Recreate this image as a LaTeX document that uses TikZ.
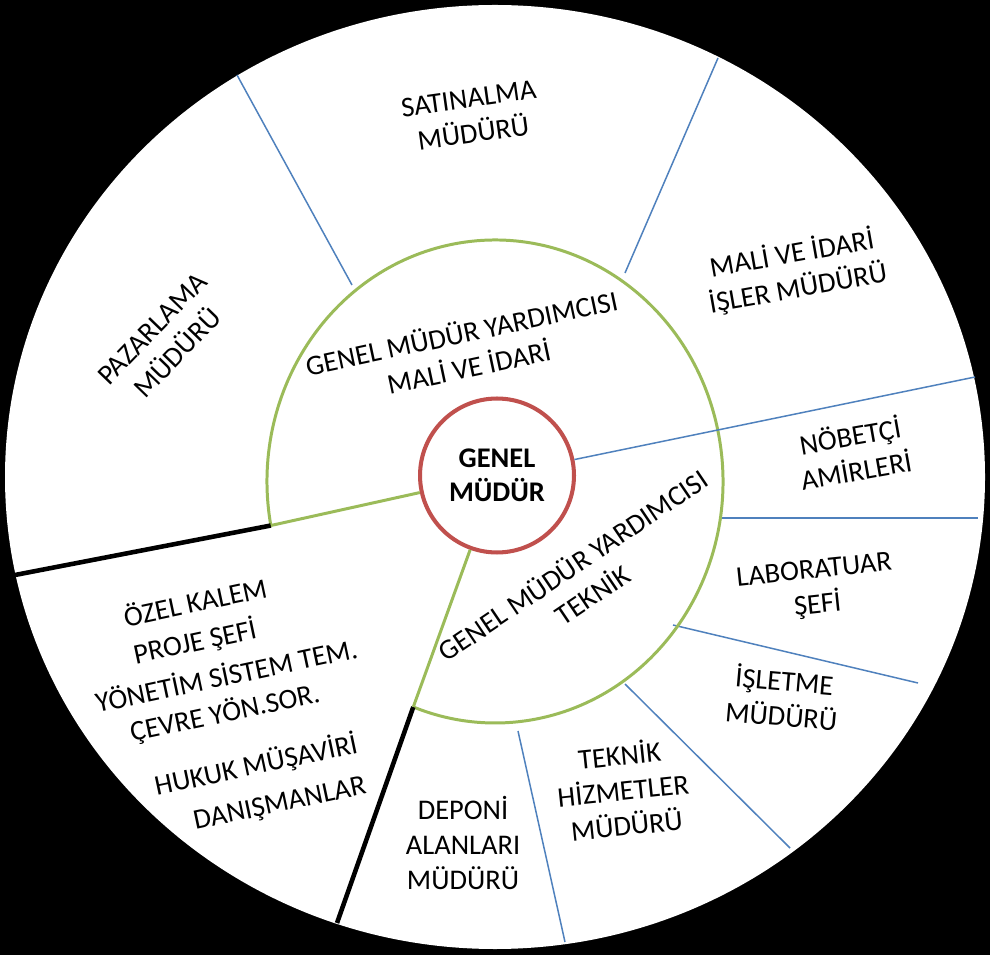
\documentclass[tikz,border=0pt]{standalone}
\usepackage{fontspec}
\setmainfont{Carlito}
\usepackage{tikz}
\usetikzlibrary{positioning,calc}
\definecolor{ringgreen}{HTML}{9BBB59}
\definecolor{ringred}{HTML}{C0504D}
\definecolor{divblue}{HTML}{4F81BD}

\begin{document}
\begin{tikzpicture}[x=0.02cm, y=-0.02cm,
      lbl/.style={align=center,inner sep=0pt,text=black,font=\fontsize{16.2}{20}\selectfont},
      boss/.style={circle,draw=ringred,line width=2.3pt,fill=white,minimum size=3.08cm,inner sep=0pt,
        align=center,font=\fontsize{16.2}{19.5}\selectfont\bfseries},
      ring/.style={draw=ringgreen,line width=1.7pt},
      divider/.style={draw=divblue,line width=0.85pt},
      heavy/.style={draw=black,line width=2.6pt}]
      \useasboundingbox (0,0) rectangle (990,955);
      \fill[black] (0,0) rectangle (990,955);
      \fill[white] (495,477) ellipse[x radius=490, y radius=472];
      \draw[divider] (352,285) -- (237,75);
      \draw[divider] (625,273) -- (718,58);
      \draw[divider] (722,518) -- (978,518);
      \draw[divider] (673,625) -- (918,683);
      \draw[divider] (625,684) -- (790,848);
      \draw[divider] (518,731) -- (565,942);
      \draw[ring] (495,481.5) ++(169.5:228 and 241.5) coordinate (gL)
        arc[start angle=169.5, end angle=471, x radius=228, y radius=241.5] coordinate (gB);
      \coordinate (oL) at (15,575);
      \coordinate (oB) at (337,923);
      \draw[heavy] (gL) -- (oL);
      \draw[heavy] (gB) -- (oB);
      \node[boss] (gm) at (497,475.5) {GENEL\\MÜDÜR};
      \draw[divider] (gm) -- (975,377);
      \draw[ring] (gm) -- (gL);
      \draw[ring] (gm) -- (gB);
      \node[lbl,rotate=8] (satin) at (471,116) {SATINALMA\\MÜDÜRÜ};
      \node[lbl,rotate=10] (mali) at (795,271) {MALİ VE İDARİ\\İŞLER MÜDÜRÜ};
      \node[lbl,rotate=46] (pazar) at (165,341) {PAZARLAMA\\MÜDÜRÜ};
      \node[lbl,rotate=12] (gmymali) at (465,349) {GENEL MÜDÜR YARDIMCISI\\MALİ VE İDARİ};
      \node[lbl,rotate=34] (gmytek) at (582,579) {GENEL MÜDÜR YARDIMCISI\\TEKNİK};
      \node[lbl,rotate=10] (nobet) at (853,452) {NÖBETÇİ\\AMİRLERİ};
      \node[lbl,rotate=6] (lab) at (816,589) {LABORATUAR\\ŞEFİ};
      \node[lbl,rotate=-5] (islet) at (783,697) {İŞLETME\\MÜDÜRÜ};
      \node[lbl,rotate=6] (teknik) at (623,789) {TEKNİK\\HİZMETLER\\MÜDÜRÜ};
      \node[lbl] (deponi) at (463,843) {DEPONİ\\ALANLARI\\MÜDÜRÜ};
      \node[lbl,rotate=12] (ozel) at (195,601) {ÖZEL KALEM};
      \node[lbl,rotate=12] (proje) at (195,642) {PROJE ŞEFİ};
      \node[lbl,rotate=12] (yonetim) at (226,674) {YÖNETİM SİSTEM TEM.};
      \node[lbl,rotate=12] (cevre) at (225,713) {ÇEVRE YÖN.SOR.};
      \node[lbl,rotate=12] (hukuk) at (256,765) {HUKUK MÜŞAVİRİ};
      \node[lbl,rotate=12] (danis) at (280,805) {DANIŞMANLAR};
    \end{tikzpicture}
\end{document}
